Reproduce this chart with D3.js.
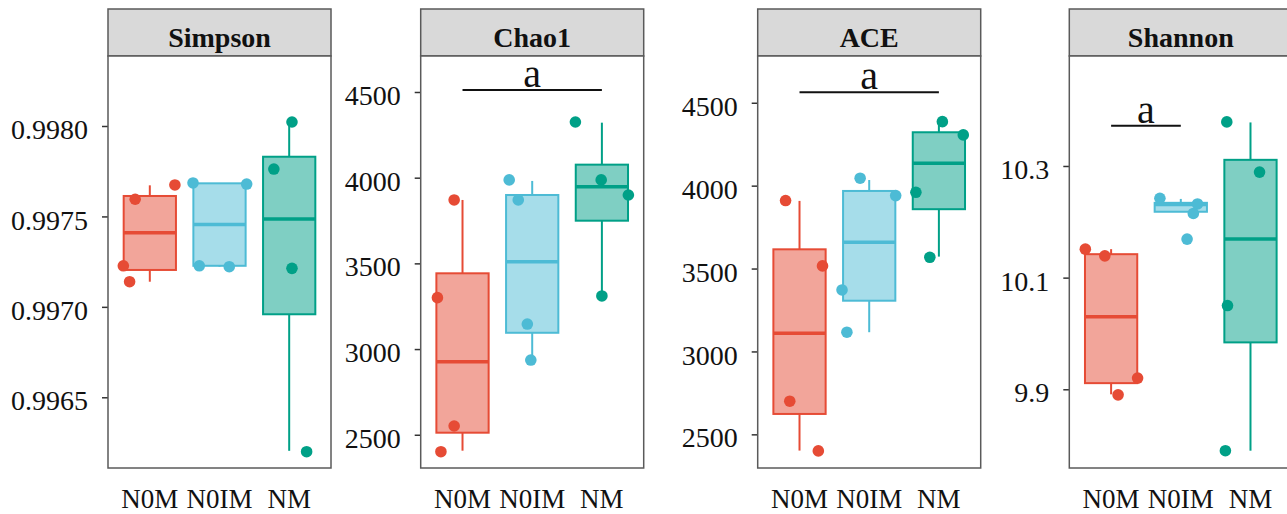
<!DOCTYPE html>
<meta charset="utf-8">
<style>
body { margin: 0; background: #fff; }
text { font-family: "Liberation Serif", "Times New Roman", serif; fill: #111; }
.strip text { font-weight: bold; }
</style>
<body>
<script src="https://d3js.org/d3.v7.min.js"></script>
<script>

// groups and colours
let groups = ["N0M", "N0IM", "NM"];
let colors = ["#E64B35", "#4DBBD5", "#00A087"];

// points per group
let simpsonPoints = [[0.997595, 0.997674, 0.997227, 0.997139],
                     [0.997685, 0.997679, 0.997227, 0.997222],
                     [0.998022, 0.997762, 0.997213, 0.996199]];
let chao1Points = [[3870, 3300, 2551, 2401],
                   [3987, 3870, 3146, 2936],
                   [4325, 3987, 3899, 3310]];
let acePoints = [[3910, 3516, 2700, 2400],
                 [4045, 3940, 3371, 3116],
                 [4386, 4306, 3960, 3568]];
let shannonPoints = [[10.151, 10.139, 9.920, 9.890],
                     [10.242, 10.232, 10.215, 10.169],
                     [10.379, 10.289, 10.050, 9.790]];

// horizontal jitter of each point, in category units
let simpsonJitter = [[-0.21, 0.36, -0.38, -0.29], [-0.38, 0.39, -0.29, 0.14], [0.04, -0.22, 0.04, 0.25]];
let chao1Jitter = [[-0.12, -0.36, -0.12, -0.31], [-0.33, -0.20, -0.07, -0.02], [-0.38, -0.01, 0.38, 0.0]];
let aceJitter = [[-0.20, 0.33, -0.14, 0.27], [-0.13, 0.38, -0.39, -0.32], [0.05, 0.35, -0.33, -0.13]];
let shannonJitter = [[-0.37, -0.09, 0.38, 0.10], [-0.30, 0.24, 0.18, 0.09], [-0.34, 0.13, -0.33, -0.36]];

// box stats: lower whisker, q1, median, q3, upper whisker
let simpsonBox = [[0.997139, 0.997204, 0.997410, 0.997613, 0.997672],
                  [0.997222, 0.997227, 0.997456, 0.997683, 0.997685],
                  [0.996204, 0.996959, 0.997486, 0.997830, 0.998022]];
let chao1Box = [[2407, 2512, 2926, 3442, 3870],
                [2936, 3095, 3510, 3899, 3981],
                [3310, 3749, 3947, 4076, 4321]];
let aceBox = [[2402, 2623, 3110, 3616, 3908],
              [3116, 3306, 3659, 3968, 4034],
              [3572, 3858, 4135, 4322, 4386]];
let shannonBox = [[9.891, 9.911, 10.030, 10.142, 10.151],
                  [10.218, 10.218, 10.231, 10.234, 10.241],
                  [9.790, 9.984, 10.169, 10.311, 10.378]];

// axis ticks
let simpsonTicks = [0.9965, 0.9970, 0.9975, 0.9980];
let chao1Ticks = [2500, 3000, 3500, 4000, 4500];
let aceTicks = [2500, 3000, 3500, 4000, 4500];
let shannonTicks = [9.9, 10.1, 10.3];

// significance letters
let chao1Sig = [{label: "a", from: "N0M", to: "NM", value: 4512}];
let aceSig = [{label: "a", from: "N0M", to: "NM", value: 4563}];
let shannonSig = [{label: "a", from: "N0M", to: "N0IM", value: 10.372}];

let panels = [
    {title: "Simpson", left: 108, domain: [0.996109, 0.998387], ticks: simpsonTicks, fmt: ".4f",
     points: simpsonPoints, jitter: simpsonJitter, box: simpsonBox, sig: []},
    {title: "Chao1", left: 420.7, domain: [2306, 4710], ticks: chao1Ticks, fmt: "d",
     points: chao1Points, jitter: chao1Jitter, box: chao1Box, sig: chao1Sig},
    {title: "ACE", left: 757.7, domain: [2297, 4782], ticks: aceTicks, fmt: "d",
     points: acePoints, jitter: aceJitter, box: aceBox, sig: aceSig},
    {title: "Shannon", left: 1069.3, domain: [9.759, 10.497], ticks: shannonTicks, fmt: ".1f",
     points: shannonPoints, jitter: shannonJitter, box: shannonBox, sig: shannonSig}
];

let panelW = 223, stripTop = 9, stripH = 47, panelTop = 56, panelBottom = 468;

let svg = d3.select("body").append("svg")
    .attr("width", 1287)
    .attr("height", 514);

panels.forEach(function (p) {
    let g = svg.append("g").attr("transform", "translate(" + p.left + ",0)");

    let x = d3.scalePoint().domain(groups).range([0, panelW]).padding(0.6);
    let step = x.step();
    let bw = step * 0.75;
    let y = d3.scaleLinear().domain(p.domain).range([panelBottom, panelTop]);

    // strip
    let strip = g.append("g").attr("class", "strip");
    strip.append("rect")
        .attr("x", 0).attr("y", stripTop)
        .attr("width", panelW).attr("height", stripH)
        .attr("fill", "#d9d9d9").attr("stroke", "#5a5a5a").attr("stroke-width", 1.5);
    strip.append("text")
        .attr("x", panelW / 2).attr("y", 47)
        .attr("text-anchor", "middle")
        .style("font-size", "28px")
        .text(p.title);

    // panel background
    g.append("rect")
        .attr("x", 0).attr("y", panelTop)
        .attr("width", panelW).attr("height", panelBottom - panelTop)
        .attr("fill", "#fff");

    // y axis
    let yAxis = g.append("g")
        .call(d3.axisLeft(y).tickValues(p.ticks).tickFormat(d3.format(p.fmt)).tickSize(6).tickPadding(14));
    yAxis.select(".domain").remove();
    yAxis.selectAll("line").attr("stroke", "#333").attr("stroke-width", 1.5);
    yAxis.selectAll("text")
        .attr("fill", "#111")
        .attr("dy", "0.45em")
        .style("font-family", "'Liberation Serif', serif")
        .style("font-size", "28px");

    // x labels
    g.selectAll(".xlab").data(groups).enter().append("text")
        .attr("class", "xlab")
        .attr("x", function (d) { return x(d); })
        .attr("y", 508)
        .attr("text-anchor", "middle")
        .style("font-size", "27px")
        .text(function (d) { return d; });

    // boxes
    let boxes = g.selectAll(".box").data(p.box).enter().append("g").attr("class", "box");
    boxes.each(function (b, i) {
        let cx = x(groups[i]);
        let bg = d3.select(this);
        bg.append("line")
            .attr("x1", cx).attr("x2", cx)
            .attr("y1", y(b[0])).attr("y2", y(b[1]))
            .attr("stroke", colors[i]).attr("stroke-width", 2);
        bg.append("line")
            .attr("x1", cx).attr("x2", cx)
            .attr("y1", y(b[3])).attr("y2", y(b[4]))
            .attr("stroke", colors[i]).attr("stroke-width", 2);
        bg.append("rect")
            .attr("x", cx - bw / 2).attr("width", bw)
            .attr("y", y(b[3])).attr("height", y(b[1]) - y(b[3]))
            .attr("fill", colors[i]).attr("fill-opacity", 0.5)
            .attr("stroke", colors[i]).attr("stroke-width", 2);
        bg.append("line")
            .attr("x1", cx - bw / 2).attr("x2", cx + bw / 2)
            .attr("y1", y(b[2])).attr("y2", y(b[2]))
            .attr("stroke", colors[i]).attr("stroke-width", 3.5);
    });

    // jittered points
    p.points.forEach(function (vals, i) {
        g.selectAll(".pt" + i).data(vals).enter().append("circle")
            .attr("cx", function (d, j) { return x(groups[i]) + p.jitter[i][j] * step; })
            .attr("cy", function (d) { return y(d); })
            .attr("r", 5.8)
            .attr("fill", colors[i]);
    });

    // significance lines
    p.sig.forEach(function (s) {
        g.append("line")
            .attr("x1", x(s.from)).attr("x2", x(s.to))
            .attr("y1", y(s.value)).attr("y2", y(s.value))
            .attr("stroke", "#111").attr("stroke-width", 2);
        g.append("text")
            .attr("x", (x(s.from) + x(s.to)) / 2)
            .attr("y", y(s.value) - 3)
            .attr("text-anchor", "middle")
            .style("font-size", "40px")
            .text(s.label);
    });

    // panel border
    g.append("rect")
        .attr("x", 0).attr("y", panelTop)
        .attr("width", panelW).attr("height", panelBottom - panelTop)
        .attr("fill", "none").attr("stroke", "#5a5a5a").attr("stroke-width", 1.5);
});

</script>
</body>
